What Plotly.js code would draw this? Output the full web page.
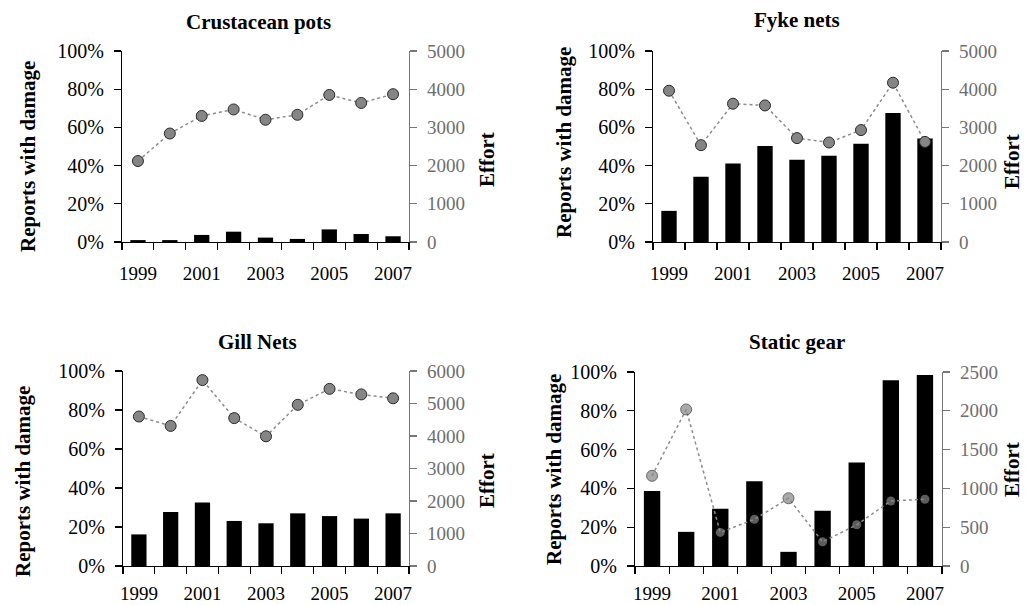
<!DOCTYPE html>
<html>
<head>
<meta charset="utf-8">
<script src="https://cdn.plot.ly/plotly-3.0.1.min.js"></script>
<style>html,body{margin:0;padding:0;background:#fff;}#chart{width:1025px;height:605px;}</style>
</head>
<body>
<div id="chart"></div>
<script>
// ---- data ----
const years = ["1999","2000","2001","2002","2003","2004","2005","2006","2007"];
const yearLabels = ["1999","","2001","","2003","","2005","","2007"];

const panelTitles = ["Crustacean pots","Fyke nets","Gill Nets","Static gear"];

// Reports with damage (%) - bars, left axis
const crustDamage  = [1.0, 1.0, 3.7, 5.4, 2.3, 1.6, 6.6, 4.2, 3.0];
const fykeDamage   = [16.3, 34.1, 41.1, 50.2, 43.0, 45.1, 51.4, 67.5, 54.2];
const gillDamage   = [16.2, 27.7, 32.6, 23.1, 21.9, 27.0, 25.6, 24.3, 27.0];
const staticDamage = [38.7, 17.6, 29.5, 43.7, 7.3, 28.5, 53.4, 95.7, 98.4];

// Effort - dots, right axis
const crustEffort  = [2120, 2840, 3300, 3470, 3200, 3330, 3850, 3640, 3870];
const fykeEffort   = [3960, 2535, 3620, 3575, 2720, 2605, 2930, 4170, 2620];
const gillEffort   = [4600, 4310, 5720, 4550, 3990, 4960, 5450, 5280, 5160];
const staticEffort = [1162, 2017, 433, 601, 873, 311, 531, 838, 860];

const effortMax  = [5000, 5000, 6000, 2500];
const effortStep = [1000, 1000, 1000, 500];

const leftTitle = "Reports with damage";
const rightTitle = "Effort";

// ---- drawing ----
const W = 1025, H = 605;
const FONT = "Liberation Serif";
const damage = [crustDamage, fykeDamage, gillDamage, staticDamage];
const effort = [crustEffort, fykeEffort, gillEffort, staticEffort];

// plot boxes in pixels [x0, x1, yTop, yBottom]
const boxes = [[122, 409, 51, 242], [653, 941, 51, 242], [123, 409, 371, 566], [635, 942, 372, 566]];
const titlePos = [[258, 22], [797, 20], [257, 342], [797, 342]];
const leftTitlePos = [[28, 157], [564, 143], [23, 482], [554, 470]];
const rightTitlePos = [[487, 160], [1012, 162], [487, 481], [1012, 470]];
const xLabelStandoff = [14, 14, 10, 10];

// static gear marker styling (some markers have no outline)
const staticMarkerSize = [11, 11, 9, 9, 11, 9, 9, 9, 9];
const staticMarkerLine = [1, 1, 0, 0, 1, 0, 0, 0, 0];

const traces = [];
const layout = {
  width: W, height: H,
  margin: {l: 0, r: 0, t: 0, b: 0, pad: 0},
  paper_bgcolor: "#fff", plot_bgcolor: "rgba(0,0,0,0)",
  showlegend: false,
  bargap: 0.52,
  font: {family: FONT, color: "#000"},
  annotations: []
};

for (let i = 0; i < 4; i++) {
  const n = i + 1;
  const xa = "x" + (n === 1 ? "" : n);
  const yl = "y" + (2 * n - 1 === 1 ? "" : (2 * n - 1));
  const yr = "y" + (2 * n);
  const b = boxes[i];
  const xdom = [b[0] / W, b[1] / W];
  const ydom = [1 - b[3] / H, 1 - b[2] / H];

  traces.push({
    type: "bar", x: years, y: damage[i], xaxis: xa, yaxis: yl,
    marker: {color: "#000", line: {width: 0}}
  });
  const ms = i === 3 ? staticMarkerSize : 11;
  const mlw = i === 3 ? staticMarkerLine : 1;
  traces.push({
    type: "scatter", mode: "lines+markers", x: years, y: effort[i], xaxis: xa, yaxis: yr,
    line: {color: "#8c8c8c", width: 1.5, dash: "dot"},
    marker: {size: ms, color: "#858585", line: {color: "#2a2a2a", width: mlw}}
  });

  const xk = "xaxis" + (n === 1 ? "" : n);
  const ylk = "yaxis" + (2 * n - 1 === 1 ? "" : (2 * n - 1));
  const yrk = "yaxis" + (2 * n);

  layout[xk] = {
    domain: xdom, anchor: yl, type: "category",
    range: [-0.5, 8.5], tickmode: "array", tickvals: years, ticktext: yearLabels,
    tickson: "boundaries", ticks: "outside", ticklen: 7, tickcolor: "#000", tickwidth: 1.2,
    showline: true, linecolor: "#000", linewidth: 1.2, showgrid: false, zeroline: false,
    tickangle: 0,
    tickfont: {family: FONT, size: 19, color: "#000"}, ticklabelstandoff: xLabelStandoff[i],
    automargin: false, fixedrange: true
  };
  layout[ylk] = {
    domain: ydom, anchor: xa, range: [0, 100], dtick: 20, ticksuffix: "%",
    ticks: "outside", ticklen: 7, tickcolor: "#000", tickwidth: 1.2,
    showline: true, linecolor: "#000", linewidth: 1.2, showgrid: false, zeroline: false,
    tickfont: {family: FONT, size: 20, color: "#000"}, ticklabelstandoff: 6,
    automargin: false, fixedrange: true
  };
  layout[yrk] = {
    domain: ydom, anchor: xa, overlaying: yl, side: "right",
    range: [0, effortMax[i]], dtick: effortStep[i],
    ticks: "outside", ticklen: 7, tickcolor: "#777", tickwidth: 1.2,
    showline: true, linecolor: "#777", linewidth: 1.2, showgrid: false, zeroline: false,
    tickfont: {family: FONT, size: 19, color: "#6e6e6e"}, ticklabelstandoff: 6,
    automargin: false, fixedrange: true
  };

  layout.annotations.push({
    xref: "paper", yref: "paper", x: titlePos[i][0] / W, y: 1 - titlePos[i][1] / H,
    xanchor: "center", yanchor: "middle", showarrow: false,
    text: "<b>" + panelTitles[i] + "</b>", font: {family: FONT, size: 21, color: "#000"}
  });
  layout.annotations.push({
    xref: "paper", yref: "paper", x: leftTitlePos[i][0] / W, y: 1 - leftTitlePos[i][1] / H,
    xanchor: "center", yanchor: "middle", showarrow: false, textangle: -90, borderpad: 0,
    text: "<b>" + leftTitle + "</b>", font: {family: FONT, size: 21, color: "#000"}
  });
  layout.annotations.push({
    xref: "paper", yref: "paper", x: rightTitlePos[i][0] / W, y: 1 - rightTitlePos[i][1] / H,
    xanchor: "center", yanchor: "middle", showarrow: false, textangle: -90, borderpad: 0,
    text: "<b>" + rightTitle + "</b>", font: {family: FONT, size: 21, color: "#000"}
  });
}

Plotly.newPlot("chart", traces, layout, {displayModeBar: false, staticPlot: true});
</script>
</body>
</html>
